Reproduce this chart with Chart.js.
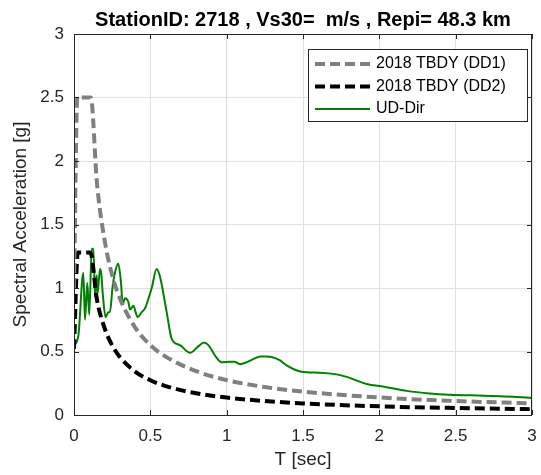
<!DOCTYPE html>
<html>
<head>
<meta charset="utf-8">
<script src="https://cdn.jsdelivr.net/npm/chart.js@4.4.1/dist/chart.umd.min.js"></script>
<style>
  html, body { margin: 0; padding: 0; background: #ffffff; }
  #wrap { width: 541px; height: 475px; position: relative; }
</style>
</head>
<body>
<div id="wrap"><canvas id="c" width="541" height="475"></canvas></div>
<script>
// Design spectra (TBDY 2018) and recorded UD response spectrum
const dd1Periods = [0, 0.022, 0.11, 0.15, 0.2, 0.25, 0.3, 0.4, 0.5, 0.6, 0.8, 1.0, 1.25, 1.5, 2.0, 2.5, 3.0];
const dd1Values  = [1.0, 2.5, 2.5, 1.83, 1.38, 1.10, 0.92, 0.69, 0.55, 0.46, 0.345, 0.275, 0.22, 0.184, 0.138, 0.11, 0.092];

const dd2Periods = [0, 0.025, 0.107, 0.15, 0.2, 0.25, 0.3, 0.4, 0.5, 0.6, 0.8, 1.0, 1.25, 1.5, 2.0, 2.5, 3.0];
const dd2Values  = [0.52, 1.28, 1.28, 0.91, 0.685, 0.548, 0.457, 0.342, 0.274, 0.228, 0.171, 0.137, 0.11, 0.091, 0.068, 0.055, 0.046];

const udPeriods = [0.0, 0.028, 0.061, 0.072, 0.087, 0.10, 0.116, 0.127, 0.138, 0.148, 0.155, 0.17, 0.178,
                   0.19, 0.207, 0.225, 0.235, 0.253, 0.268, 0.29, 0.308, 0.319, 0.334, 0.356, 0.367, 0.389,
                   0.406, 0.417, 0.443, 0.465, 0.509, 0.541, 0.563, 0.607, 0.64, 0.694, 0.76, 0.814, 0.851,
                   0.88, 0.934, 0.967, 1.02, 1.05, 1.087, 1.13, 1.175, 1.22, 1.262, 1.30, 1.35, 1.393, 1.49,
                   1.61, 1.72, 1.786, 1.917, 2.03, 2.18, 2.33, 2.46, 2.68, 2.88, 3.0];
const udValues  = [0.55, 0.62, 1.12, 0.75, 1.04, 0.79, 1.31, 1.31, 0.93, 1.10, 0.96, 1.15, 1.12,
                   0.93, 0.77, 0.81, 0.81, 1.01, 1.12, 1.19, 1.04, 0.87, 0.92, 0.89, 0.83, 0.86,
                   0.80, 0.77, 0.81, 0.84, 1.00, 1.15, 1.09, 0.81, 0.60, 0.55, 0.49, 0.54, 0.57,
                   0.55, 0.45, 0.415, 0.42, 0.42, 0.40, 0.415, 0.44, 0.46, 0.46, 0.455, 0.43, 0.39, 0.34,
                   0.333, 0.32, 0.30, 0.244, 0.223, 0.19, 0.17, 0.16, 0.152, 0.144, 0.134];

const xTicks = [0, 0.5, 1, 1.5, 2, 2.5, 3];
const yTicks = [0, 0.5, 1, 1.5, 2, 2.5, 3];

const seriesLabels = ['2018 TBDY (DD1)', '2018 TBDY (DD2)', 'UD-Dir'];
const titleText = 'StationID: 2718 , Vs30=  m/s , Repi= 48.3 km';

const FONT = '"Liberation Sans", Arial, Helvetica, sans-serif';
const AXIS_COLOR = '#262626';

function toPoints(xs, ys) { return xs.map((x, i) => ({ x: x, y: ys[i] })); }

// Axes box with inward tick marks
const boxPlugin = {
  id: 'axesBox',
  afterDraw(chart) {
    const { ctx, chartArea: a, scales } = chart;
    ctx.save();
    ctx.strokeStyle = AXIS_COLOR;
    ctx.lineWidth = 1;
    ctx.strokeRect(Math.round(a.left) + 0.5, Math.round(a.top) + 0.5,
                   Math.round(a.right - a.left) - 1, Math.round(a.bottom - a.top));
    const len = 5;
    ctx.beginPath();
    xTicks.forEach(v => {
      const px = Math.round(scales.x.getPixelForValue(v)) + 0.5;
      ctx.moveTo(px, a.bottom); ctx.lineTo(px, a.bottom - len);
      ctx.moveTo(px, a.top); ctx.lineTo(px, a.top + len);
    });
    yTicks.forEach(v => {
      const py = Math.round(scales.y.getPixelForValue(v)) + 0.5;
      ctx.moveTo(a.left, py); ctx.lineTo(a.left + len, py);
      ctx.moveTo(a.right, py); ctx.lineTo(a.right - len, py);
    });
    ctx.stroke();
    ctx.restore();
  }
};

// Boxed legend in the upper right corner of the axes
const legendBoxPlugin = {
  id: 'legendBox',
  afterDraw(chart) {
    const { ctx, chartArea: a } = chart;
    const w = 219, h = 72;
    const x0 = Math.round(a.right) - 5 - w, y0 = Math.round(a.top) + 15;
    ctx.save();
    ctx.fillStyle = '#ffffff';
    ctx.fillRect(x0, y0, w, h);
    ctx.strokeStyle = AXIS_COLOR;
    ctx.lineWidth = 1;
    ctx.strokeRect(x0 + 0.5, y0 + 0.5, w, h);
    ctx.font = '16px ' + FONT;
    ctx.textBaseline = 'middle';
    ctx.fillStyle = '#000000';
    chart.data.datasets.forEach((ds, i) => {
      const cy = y0 + 15 + i * 22.5;
      ctx.beginPath();
      ctx.strokeStyle = ds.borderColor;
      ctx.lineWidth = ds.borderWidth;
      ctx.setLineDash(ds.borderDash || []);
      ctx.moveTo(x0 + 7, cy);
      ctx.lineTo(x0 + 62, cy);
      ctx.stroke();
      ctx.setLineDash([]);
      ctx.fillText(ds.label, x0 + 68, cy);
    });
    ctx.restore();
  }
};

new Chart(document.getElementById('c'), {
  type: 'line',
  data: {
    datasets: [
      { label: seriesLabels[0], data: toPoints(dd1Periods, dd1Values), borderColor: '#808080',
        borderWidth: 4, borderDash: [10, 5], cubicInterpolationMode: 'monotone', pointRadius: 0, fill: false },
      { label: seriesLabels[1], data: toPoints(dd2Periods, dd2Values), borderColor: '#000000',
        borderWidth: 4, borderDash: [10, 5], cubicInterpolationMode: 'monotone', pointRadius: 0, fill: false },
      { label: seriesLabels[2], data: toPoints(udPeriods, udValues), borderColor: '#008000',
        borderWidth: 2, cubicInterpolationMode: 'monotone', pointRadius: 0, fill: false }
    ]
  },
  options: {
    responsive: false,
    animation: false,
    parsing: true,
    layout: { padding: { left: 0, right: 0, top: 0, bottom: 0 } },
    plugins: {
      legend: { display: false },
      tooltip: { enabled: false },
      title: {
        display: true, text: titleText, fullSize: false, color: '#000000',
        font: { family: FONT, size: 20, weight: 'bold', lineHeight: 1.2 },
        padding: { top: 8, bottom: 2 }
      }
    },
    scales: {
      x: {
        type: 'linear', min: 0, max: 3,
        afterBuildTicks: s => { s.ticks = xTicks.map(v => ({ value: v })); },
        afterFit: s => { s.height = 60; s.paddingLeft = 0; s.paddingRight = 9; },
        ticks: { color: AXIS_COLOR, font: { family: FONT, size: 17 }, padding: 11, maxRotation: 0,
                 callback: v => String(v) },
        grid: { color: '#dfdfdf', lineWidth: 1, drawTicks: false },
        border: { display: false },
        title: { display: true, text: 'T [sec]', color: AXIS_COLOR,
                 font: { family: FONT, size: 19, lineHeight: 1.2 }, padding: 4 }
      },
      y: {
        type: 'linear', min: 0, max: 3,
        afterBuildTicks: s => { s.ticks = yTicks.map(v => ({ value: v })); },
        afterFit: s => { s.width = 74; s.paddingTop = 0; s.paddingBottom = 0; },
        ticks: { color: AXIS_COLOR, font: { family: FONT, size: 17 }, padding: 10,
                 callback: v => String(v) },
        grid: { color: '#dfdfdf', lineWidth: 1, drawTicks: false },
        border: { display: false },
        title: { display: true, text: 'Spectral Acceleration [g]', color: AXIS_COLOR,
                 font: { family: FONT, size: 19, lineHeight: 1.2 }, padding: 9 }
      }
    }
  },
  plugins: [boxPlugin, legendBoxPlugin]
});
</script>
</body>
</html>
